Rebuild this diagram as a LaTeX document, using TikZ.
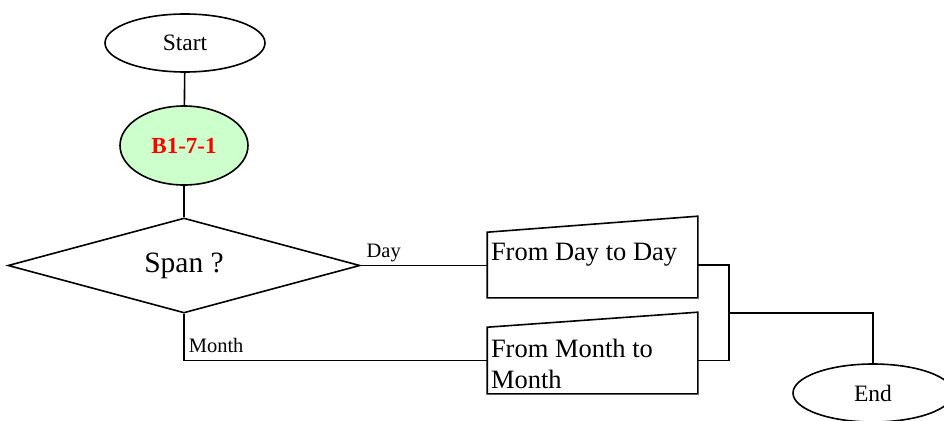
\documentclass[tikz,border=0pt]{standalone}
\usepackage{fontspec}
\setmainfont{Liberation Serif}
\usepackage{tikz}
\usetikzlibrary{shapes.geometric,positioning}
\definecolor{callgreen}{HTML}{CCFFCC}

\begin{document}
\begin{tikzpicture}[x=1pt,y=-1pt,line width=1.6pt,
  every node/.style={inner sep=0pt},
  terminal/.style={draw,ellipse,minimum width=160pt,minimum height=58pt,
  font=\fontsize{23.5}{28}\selectfont},
  callnode/.style={draw,ellipse,fill=callgreen,minimum width=128pt,minimum height=79pt,
  text=red,font=\fontsize{23}{28}\selectfont\bfseries},
  decision/.style={draw,diamond,aspect=3.7,minimum width=352pt,minimum height=95pt,
  font=\fontsize{29.5}{34}\selectfont},
  manual/.style={minimum width=209pt},
  boxtext/.style={font=\fontsize{26.5}{31.3}\selectfont,align=left,anchor=north west},
  branch/.style={font=\fontsize{20.5}{24}\selectfont,anchor=base west},
]
\useasboundingbox (0,0) rectangle (944,420);
\clip (0,0) rectangle (944,420);

% the main column
\node[terminal] (start) at (185,43) {Start};
\node[callnode] (call) at (184,145.5) {B1-7-1};
\node[decision] (span) at (184,265.5) {Span ?};

% the two manual inputs
\node[manual,minimum height=64pt] (day) at (592.5,265) {};
\node[manual,minimum height=65pt] (mon) at (592.5,360.5) {};
\draw (day.south west) -- (day.north west) -- ([yshift=16pt]day.north east)
  -- (day.south east) -- cycle;
\draw (mon.south west) -- (mon.north west) -- ([yshift=15pt]mon.north east)
  -- (mon.south east) -- cycle;
\node[boxtext] (daytext) at ([xshift=3pt,yshift=-10pt]day.north west) {From Day to Day};
\node[boxtext] (montext) at ([xshift=3pt,yshift=-11pt]mon.north west) {From Month to\\Month};

% the end
\node[terminal] (end) at (873,393) {End};
\coordinate (join) at (729,313);

% the edges
\draw (start) -- (call);
\draw (call) -- (span);
\draw (span.east) -- node[branch,pos=0,xshift=5pt,yshift=8pt] (daylbl) {Day}
  (span.east -| day.west);
\draw (span.south) |- node[branch,pos=0.5,xshift=4pt,yshift=8pt] (monlbl) {Month}
  (mon.west);
\draw (day.east) -| (join);
\draw (mon.east) -| (join);
\draw (join) -| (end.north);
\end{tikzpicture}
\end{document}
